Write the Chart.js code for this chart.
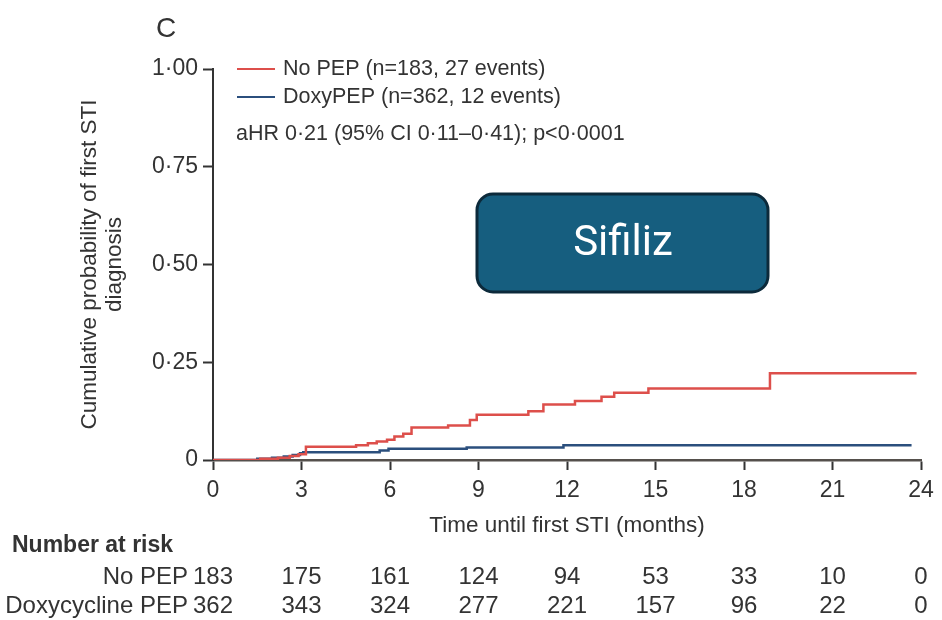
<!DOCTYPE html>
<html>
<head>
<meta charset="utf-8">
<script src="https://cdn.jsdelivr.net/npm/chart.js@4.4.1/dist/chart.umd.min.js"></script>
<style>
  html, body { margin: 0; padding: 0; background: #fff; }
  #wrap { width: 942px; height: 620px; }
</style>
</head>
<body>
<div id="wrap"><canvas id="kmChart" width="942" height="620"></canvas></div>
<script>
// Kaplan-Meier steps (months, cumulative probability)
let noPepMonths = [0, 1.6, 2.2, 2.6, 2.9, 3.15, 4.85, 5.25, 5.55, 5.9, 6.15, 6.45, 6.73, 7.97, 8.71, 8.94, 10.69, 11.2, 12.27, 13.17, 13.6, 14.76, 18.88, 23.85];
let noPepProb = [0, 0.003, 0.006, 0.010, 0.015, 0.034, 0.038, 0.043, 0.047, 0.052, 0.060, 0.067, 0.083, 0.088, 0.102, 0.116, 0.125, 0.142, 0.151, 0.162, 0.172, 0.183, 0.222, 0.222];

let doxyMonths = [0, 1.5, 2.0, 2.4, 2.7, 2.95, 3.06, 5.65, 5.95, 8.6, 11.88, 23.68];
let doxyProb = [0, 0.003, 0.006, 0.009, 0.013, 0.017, 0.020, 0.024, 0.029, 0.032, 0.038, 0.038];

// number at risk table
let riskMonths = [0, 3, 6, 9, 12, 15, 18, 21, 24];
let noPepAtRisk = [183, 175, 161, 124, 94, 53, 33, 10, 0];
let doxyAtRisk = [362, 343, 324, 277, 221, 157, 96, 22, 0];

let seriesLabels = ["No PEP (n=183, 27 events)", "DoxyPEP (n=362, 12 events)"];
let riskLabels = ["No PEP", "Doxycycline PEP"];
let statsText = "aHR 0·21 (95% CI 0·11–0·41); p<0·0001";

let FONT = "'Liberation Sans', Arial, sans-serif";
let textColor = "#333333";
let redLine = "#dd4f4b";
let blueLine = "#2b4f7d";

function toPoints(xs, ys) {
    return xs.map(function (m, i) { return { x: m, y: ys[i] }; });
}

// fix the plot box so it sits where the original one does
let PLOT_LEFT = 213;
let PLOT_BOTTOM = 460;

let overlay = {
    id: "overlay",
    afterDraw: function (chart) {
        let ctx = chart.ctx;
        let xs = chart.scales.x;
        ctx.save();

        // panel letter
        ctx.fillStyle = textColor;
        ctx.textBaseline = "middle";
        ctx.textAlign = "left";
        ctx.font = "28px " + FONT;
        ctx.fillText("C", 156, 29);

        // legend
        ctx.font = "21.5px " + FONT;
        chart.data.datasets.forEach(function (ds, i) {
            let y = 69 + i * 28;
            ctx.strokeStyle = ds.borderColor;
            ctx.lineWidth = 1.8;
            ctx.beginPath();
            ctx.moveTo(237, y);
            ctx.lineTo(275, y);
            ctx.stroke();
            ctx.fillStyle = textColor;
            ctx.fillText(ds.label, 283, y);
        });
        ctx.fillText(statsText, 236, 134);

        // number at risk
        ctx.font = "bold 23px " + FONT;
        ctx.fillText("Number at risk", 12, 546);
        ctx.font = "24px " + FONT;
        ctx.textAlign = "right";
        ctx.fillText(riskLabels[0], 188, 577);
        ctx.fillText(riskLabels[1], 188, 606);
        ctx.textAlign = "center";
        riskMonths.forEach(function (m, i) {
            let px = xs.getPixelForValue(m);
            ctx.fillText(String(noPepAtRisk[i]), px, 577);
            ctx.fillText(String(doxyAtRisk[i]), px, 606);
        });

        // "Sifiliz" tag
        ctx.beginPath();
        ctx.roundRect(477, 194, 291, 98, 16);
        ctx.fillStyle = "#165e7f";
        ctx.fill();
        ctx.lineWidth = 3;
        ctx.strokeStyle = "#0c2a3b";
        ctx.stroke();
        ctx.fillStyle = "#ffffff";
        ctx.font = "42px Roboto, 'Noto Sans', sans-serif";
        ctx.textAlign = "center";
        ctx.fillText("Sifiliz", 623, 244);

        ctx.restore();
    }
};

let ctx = document.getElementById("kmChart").getContext("2d");

let chart = new Chart(ctx, {
    type: "line",
    data: {
        datasets: [
            {
                label: seriesLabels[0],
                data: toPoints(noPepMonths, noPepProb),
                borderColor: redLine,
                borderWidth: 2.5,
                stepped: true,
                pointRadius: 0,
                fill: false
            },
            {
                label: seriesLabels[1],
                data: toPoints(doxyMonths, doxyProb),
                borderColor: blueLine,
                borderWidth: 2.5,
                stepped: true,
                pointRadius: 0,
                fill: false
            }
        ]
    },
    options: {
        responsive: false,
        animation: false,
        layout: { padding: { left: 0, top: 69, right: 21, bottom: 0 } },
        plugins: {
            legend: { display: false },
            tooltip: { enabled: false }
        },
        scales: {
            x: {
                type: "linear",
                min: 0,
                max: 24,
                afterFit: function (scale) { scale.height = 620 - PLOT_BOTTOM; },
                ticks: {
                    stepSize: 3,
                    color: textColor,
                    padding: 7,
                    font: { family: FONT, size: 23 }
                },
                grid: {
                    drawOnChartArea: false,
                    drawTicks: true,
                    tickLength: 10,
                    tickWidth: 2,
                    tickColor: "#333333"
                },
                border: { display: true, color: "#55504c", width: 2.5 },
                title: {
                    display: true,
                    text: "Time until first STI (months)",
                    color: textColor,
                    font: { family: FONT, size: 22.5, lineHeight: 1.2 },
                    padding: { top: 0, bottom: 81 }
                }
            },
            y: {
                min: 0,
                max: 1,
                afterFit: function (scale) { scale.width = PLOT_LEFT; },
                ticks: {
                    stepSize: 0.25,
                    color: textColor,
                    padding: 5,
                    font: { family: FONT, size: 23 },
                    callback: function (v) {
                        return v === 0 ? "0" : v.toFixed(2).replace(".", "·");
                    }
                },
                grid: {
                    drawOnChartArea: false,
                    drawTicks: true,
                    tickLength: 10,
                    tickWidth: 2,
                    tickColor: "#333333"
                },
                border: { display: true, color: "#333333", width: 2 },
                title: {
                    display: true,
                    text: ["Cumulative probability of first STI", "diagnosis"],
                    color: textColor,
                    font: { family: FONT, size: 22.5, lineHeight: "25px" },
                    padding: { top: 77, bottom: 0 }
                }
            }
        }
    },
    plugins: [overlay]
});
</script>
</body>
</html>
